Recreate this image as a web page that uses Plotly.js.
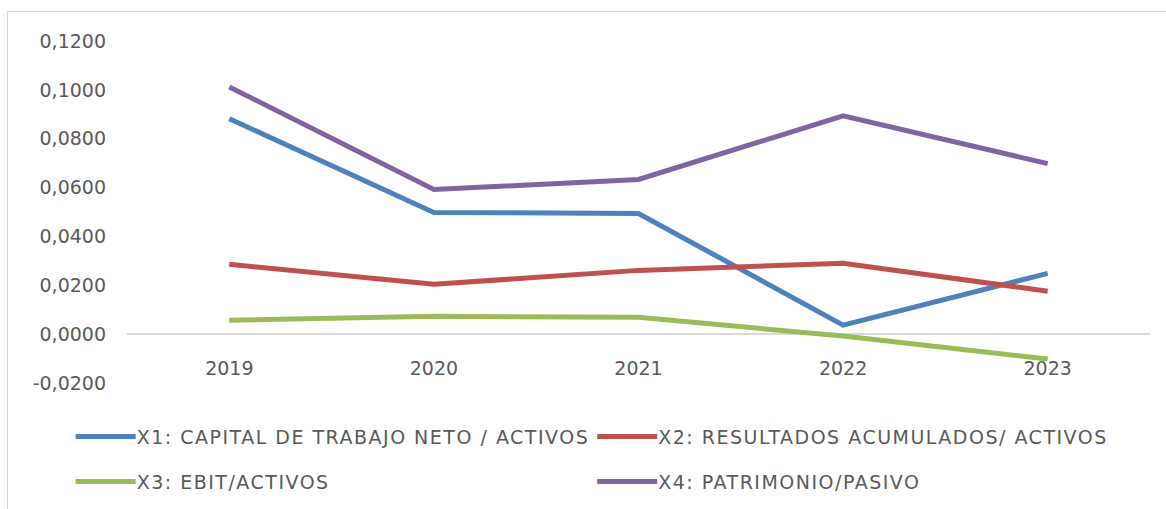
<!DOCTYPE html>
<html>
<head>
<meta charset="utf-8">
<script src="https://cdn.plot.ly/plotly-3.0.1.min.js"></script>
<style>
html,body{margin:0;padding:0;background:#fff;}
#wrap{position:relative;width:1166px;height:509px;overflow:hidden;}
#chart{width:1166px;height:509px;}
#frame{position:absolute;left:7px;top:11px;width:1200px;height:600px;border:1.5px solid #d9d9d9;box-sizing:border-box;pointer-events:none;}
</style>
</head>
<body>
<div id="wrap"><div id="chart"></div><div id="frame"></div></div>
<script>
const years = ['2019','2020','2021','2022','2023'];
const seriesNames = [
  'X1: CAPITAL DE TRABAJO NETO / ACTIVOS',
  'X2: RESULTADOS ACUMULADOS/ ACTIVOS',
  'X3: EBIT/ACTIVOS',
  'X4: PATRIMONIO/PASIVO'
];
const x1 = [0.0882, 0.0498, 0.0494, 0.0037, 0.0249];
const x2 = [0.0286, 0.0204, 0.0261, 0.0290, 0.0176];
const x3 = [0.0057, 0.0073, 0.0069, -0.0008, -0.0102];
const x4 = [0.1012, 0.0592, 0.0633, 0.0894, 0.0698];
const yTickVals = [-0.02, 0, 0.02, 0.04, 0.06, 0.08, 0.10, 0.12];
const yTickText = ['-0,0200','0,0000','0,0200','0,0400','0,0600','0,0800','0,1000','0,1200'];
const colors = ['#4F81BD','#C0504D','#9BBB59','#8064A2'];
const legendIds = ['legend','legend2','legend3','legend4'];

const values = [x1, x2, x3, x4];
const traces = values.map((v, i) => ({
  type: 'scatter', mode: 'lines', x: years, y: v, name: seriesNames[i],
  line: {color: colors[i], width: 5, shape: 'linear'},
  legend: legendIds[i],
  hoverinfo: 'skip'
}));

const FONT = 'DejaVu Sans, sans-serif';
const legendBase = {
  orientation: 'h', xref: 'container', yref: 'container',
  xanchor: 'left', yanchor: 'top',
  itemwidth: 60,
  entrywidth: 520, entrywidthmode: 'pixels',
  font: {family: FONT, size: 19, color: '#595959'},
  bgcolor: 'rgba(0,0,0,0)'
};
const colX = [0.0606, 0.5079];
const rowY = [0.1795, 0.0912];
const layout = {
  width: 1166, height: 509,
  margin: {l: 127, r: 16, t: 41, b: 126},
  paper_bgcolor: '#ffffff', plot_bgcolor: '#ffffff',
  font: {family: FONT, size: 19, color: '#595959'},
  showlegend: true,
  xaxis: {
    type: 'category', range: [-0.5, 4.5],
    anchor: 'free', position: 0.1404,
    showline: false, showgrid: false, zeroline: false,
    ticks: '', ticklabelstandoff: 20,
    tickfont: {family: FONT, size: 19, color: '#595959'}
  },
  yaxis: {
    range: [-0.02, 0.12],
    tickvals: yTickVals, ticktext: yTickText,
    showgrid: false, showline: false,
    zeroline: true, zerolinecolor: '#d9d9d9', zerolinewidth: 2,
    ticks: '', ticklabelstandoff: 20,
    tickfont: {family: FONT, size: 19, color: '#595959'}
  }
};
legendIds.forEach((id, i) => {
  layout[id] = Object.assign({}, legendBase, {x: colX[i % 2], y: rowY[Math.floor(i / 2)]});
});

function fix() {
  const texts = Array.from(document.querySelectorAll('#chart svg text'))
    .filter(t => seriesNames.includes(t.textContent));
  texts.forEach(t => {
    if (t.dataset.fixed) return;
    t.dataset.fixed = '1';
    t.style.letterSpacing = '1.5px';
    t.setAttribute('x', String(parseFloat(t.getAttribute('x') || '0') - 4));
  });
  document.querySelectorAll('#chart [clip-path]').forEach(s => {
    if ((s.getAttribute('clip-path') || '').indexOf('legend') >= 0) s.removeAttribute('clip-path');
  });
}

Plotly.newPlot('chart', traces, layout, {displayModeBar: false, staticPlot: true}).then(gd => {
  fix();
  gd.on('plotly_afterplot', fix);
  setTimeout(fix, 50);
  setTimeout(fix, 300);
});
</script>
</body>
</html>
